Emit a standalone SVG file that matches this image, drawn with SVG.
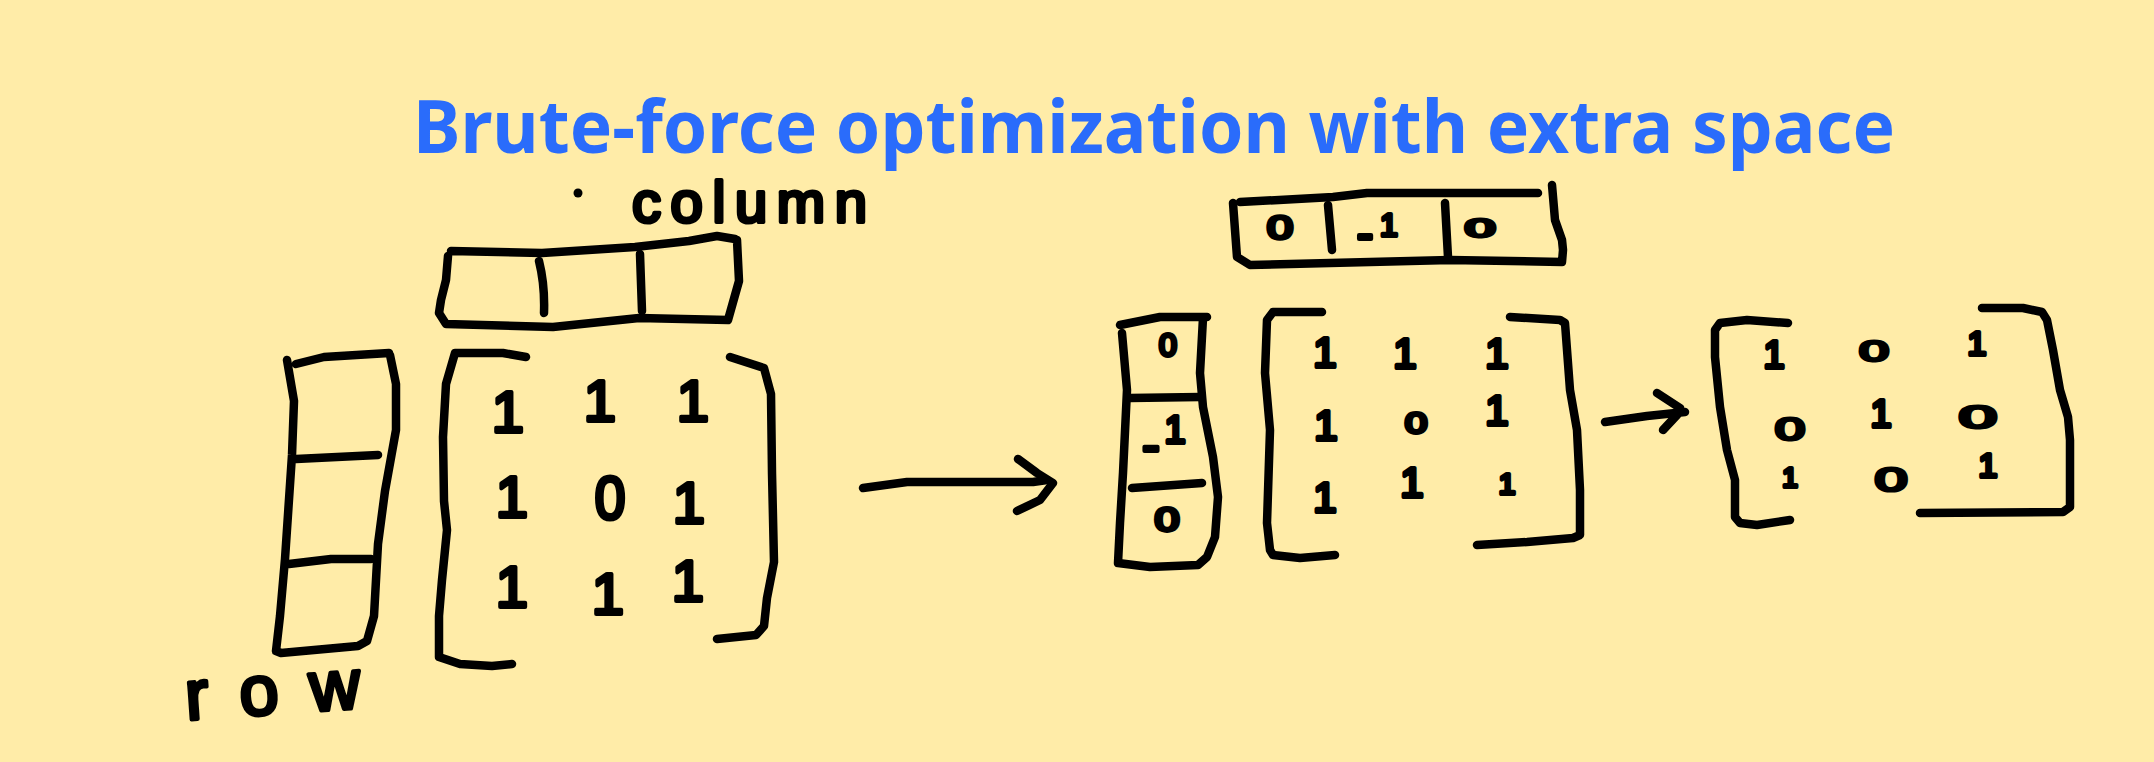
<svg xmlns="http://www.w3.org/2000/svg" width="2154" height="762" viewBox="0 0 2154 762">
<style>
.ink{fill:none;stroke:#000;stroke-width:8.5;stroke-linecap:round;stroke-linejoin:round}
.d{font-family:"Liberation Sans",Arial,sans-serif;fill:#000;stroke:#000;stroke-width:4;stroke-linejoin:round;stroke-linecap:round;text-anchor:middle}
.hw{font-family:"Liberation Sans",Arial,sans-serif;fill:#000;stroke:#000;stroke-width:4;stroke-linejoin:round}
.title{font-family:"Noto Sans","Open Sans",sans-serif;font-weight:700;font-size:74px;fill:#2a6cfb}
</style>
<rect width="2154" height="762" fill="#ffeca8"/>
<g id="title"><text class="title" x="413" y="153" textLength="1482" lengthAdjust="spacingAndGlyphs">Brute-force optimization with extra space</text></g>

<g id="column-label">
<circle cx="578" cy="193" r="4.5" fill="#000"/>
<text class="hw" x="632" y="222" font-size="58" textLength="235" lengthAdjust="spacing">column</text>
</g>

<g id="column-vector">
<path class="ink" d="M451,251 L542,253 L635,247 L689,241 L717,236 L735,239 M737,240 L739,281 L728,320 L639,318 L553,327 L446,324 L439,313 L441,300 L446,280 L448,256"/>
<path class="ink" d="M539,261 Q545,285 544,313 M640,254 L642,311"/>
</g>

<g id="row-vector">
<path class="ink" d="M287,360 L294,401 L292,455 L285,559 L280,616 L276,651 L281,653 L314,650 L358,646 L367,641 L374,616 L378,544 L385,491 L396,430 L396,384 L390,355 M389,353 L324,357 L296,364"/>
<path class="ink" d="M296,459 L378,455 M289,564 L331,559 L371,559"/>
</g>

<g id="row-label"><text class="hw" x="186" y="714" font-size="70" textLength="175" lengthAdjust="spacing" transform="rotate(-4 270 705)">row</text></g>

<g id="matrix-1">
<path class="ink" d="M526,357 L503,353 L455,353 L446,384 L443,437 L444,501 L447,530 L442,580 L439,616 L439,657 L460,664 L492,666 L512,664"/>
<path class="ink" d="M730,357 L764,368 L771,394 L772,473 L774,562 L767,598 L764,626 L756,635 L717,639"/>
<g font-size="58">
<text class="d" x="508" y="432">1</text>
<text class="d" x="600" y="421">1</text>
<text class="d" x="693" y="421">1</text>
<text class="d" x="512" y="517">1</text>
<text class="d" transform="translate(610,519) scale(0.95,1.05)" x="0" y="0">0</text>
<text class="d" x="689" y="523">1</text>
<text class="d" x="512" y="607">1</text>
<text class="d" x="608" y="614">1</text>
<text class="d" x="688" y="601">1</text>
</g>
</g>

<g id="column-vector-2">
<path class="ink" d="M1240,202 L1333,197 L1367,193 L1538,193"/>
<path class="ink" d="M1233,203 L1237,257 L1250,265 L1450,260 L1562,262 L1563,250 L1562,240 L1555,220 L1552,185"/>
<path class="ink" d="M1328,205 L1332,250 M1445,203 L1448,257"/>
<text class="d" font-size="36" transform="translate(1280,239) scale(1.3,0.9)" x="0" y="0">0</text>
<text class="d"><tspan x="1365" y="250" font-size="50">-</tspan><tspan x="1389" y="236" font-size="32">1</tspan></text>
<text class="d" font-size="32" transform="translate(1480,237) scale(1.7,0.8)" x="0" y="0">0</text>
</g>

<g id="row-vector-2">
<path class="ink" d="M1120,325 L1160,317 L1207,317"/>
<path class="ink" d="M1122,333 L1127,390 L1123,473 L1120,523 L1118,563 L1150,567 L1198,565 L1207,557 L1215,537 L1218,497 L1213,457 L1203,407 L1200,373 L1203,318"/>
<path class="ink" d="M1130,398 L1200,397 M1132,488 L1202,483"/>
<text class="d" font-size="32" x="1168" y="356">0</text>
<text class="d"><tspan x="1151" y="463" font-size="54">-</tspan><tspan x="1175" y="443" font-size="38">1</tspan></text>
<text class="d" font-size="34" transform="translate(1167,531) scale(1.3,0.95)" x="0" y="0">0</text>
</g>

<g id="matrix-2">
<path class="ink" d="M1322,312 L1273,312 L1267,320 L1265,373 L1270,430 L1267,523 L1270,550 L1273,555 L1300,558 L1335,555"/>
<path class="ink" d="M1510,317 L1560,320 L1565,323 L1570,390 L1577,430 L1580,490 L1580,535 L1573,538 L1527,542 L1477,545"/>
<g font-size="42">
<text class="d" x="1325" y="367">1</text>
<text class="d" x="1405" y="368">1</text>
<text class="d" x="1497" y="368">1</text>
<text class="d" x="1326" y="440">1</text>
<text class="d" font-size="32" transform="translate(1416,433) scale(1.25,0.95)" x="0" y="0">0</text>
<text class="d" x="1497" y="425">1</text>
<text class="d" x="1325" y="512">1</text>
<text class="d" x="1412" y="497">1</text>
<text class="d" font-size="30" x="1507" y="494">1</text>
</g>
</g>

<g id="matrix-3">
<path class="ink" d="M1788,323 L1747,320 L1720,323 L1715,330 L1715,357 L1720,407 L1727,450 L1735,480 L1735,517 L1740,523 L1757,525 L1790,520"/>
<path class="ink" d="M1982,308 L2023,308 L2042,312 L2047,320 L2053,350 L2060,390 L2068,417 L2070,440 L2070,507 L2063,512 L1920,513"/>
<g font-size="38">
<text class="d" x="1774" y="368">1</text>
<text class="d" font-size="38" transform="translate(1874,361) scale(1.4,0.78)" x="0" y="0">0</text>
<text class="d" font-size="34" x="1977" y="355">1</text>
<text class="d" font-size="40" transform="translate(1790,440) scale(1.35,0.8)" x="0" y="0">0</text>
<text class="d" x="1881" y="427">1</text>
<text class="d" font-size="40" transform="translate(1978,428) scale(1.7,0.8)" x="0" y="0">0</text>
<text class="d" font-size="28" x="1790" y="487">1</text>
<text class="d" font-size="42" transform="translate(1891,491) scale(1.4,0.8)" x="0" y="0">0</text>
<text class="d" font-size="34" x="1988" y="477">1</text>
</g>
</g>

<g id="connectors">
<path class="ink" d="M863,488 L907,482 L1033,482 L1047,480"/>
<path class="ink" d="M1018,459 L1037,473 L1053,483 L1040,500 L1017,511"/>
<path class="ink" d="M1605,422 L1647,416 L1685,412"/>
<path class="ink" d="M1657,393 L1680,408 L1677,415 L1663,430"/>
</g>
</svg>
